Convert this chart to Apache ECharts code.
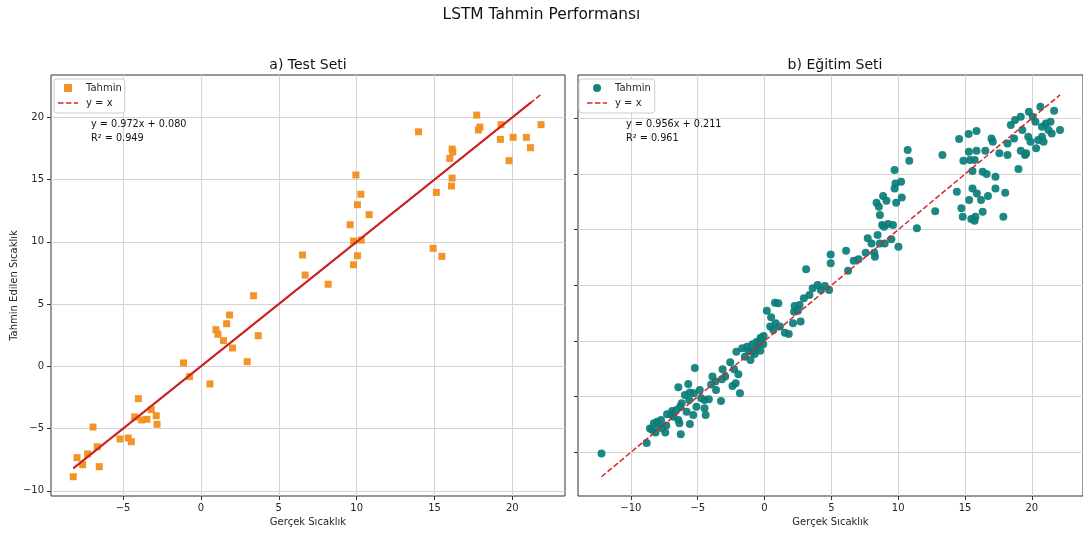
<!DOCTYPE html>
<html>
<head>
<meta charset="utf-8">
<script src="https://cdn.jsdelivr.net/npm/echarts@6/dist/echarts.min.js"></script>
<style>
  html, body { margin: 0; padding: 0; background: #fff; }
  #chart { width: 1083px; height: 534px; }
</style>
</head>
<body>
<div id="chart"></div>
<script>
// Test set: actual and predicted temperature (°C)
const testActual = [
  6.52, 6.69, 8.17, 9.95, 10.27, 10.05, 10.80, 9.58, 9.80, 10.29,
  10.05, 9.80, 13.97, 15.12, 14.91, 15.47, 16.13, 16.17, 15.98, 16.13,
  16.09, 17.71, 17.91, 17.82, 19.27, 19.23, 20.05, 19.79, 20.90, 21.16,
  21.84, 3.38, 1.84, 1.65, 0.96, 1.09, 1.45, 2.03, 3.68, 2.97,
  -1.12, -0.73, 0.58, -4.02, -3.19, -4.26, -2.87, -3.81, -3.47, -2.82,
  -6.93, -5.20, -4.67, -4.47, -6.66, -7.28, -7.96, -7.60, -6.53, -8.20
];
const testPredicted = [
  8.94, 7.33, 6.59, 15.37, 13.82, 12.98, 12.18, 11.37, 10.06, 10.14,
  8.88, 8.16, 18.84, 13.97, 9.48, 8.83, 17.45, 17.21, 16.70, 15.12,
  14.48, 20.18, 19.22, 18.98, 19.41, 18.23, 18.39, 16.52, 18.39, 17.56,
  19.41, 5.67, 4.12, 3.42, 2.94, 2.57, 2.06, 1.47, 2.46, 0.37,
  0.27, -0.83, -1.42, -2.60, -3.48, -4.07, -3.97, -4.31, -4.26, -4.66,
  -4.88, -5.84, -5.76, -6.06, -6.46, -7.04, -7.34, -7.90, -8.06, -8.87
];
// Extent of the solid guide line on the test panel
const testGuideX = [-8.2, 21.2];

// Training set: actual and predicted temperature (°C)
const trainActual = [
  -12.20, -8.82, -8.58, -8.28, -8.04, -7.75, -8.16, -7.67, -7.35, -7.43,
  -7.30, -6.91, -6.81, -6.45, -6.37, -6.27, -6.45, -6.32, -6.20, -5.96,
  -5.71, -5.59, -5.64, -5.83, -5.59, -5.34, -5.29, -5.22, -5.10, -4.85,
  -4.73, -4.49, -4.49, -4.41, -4.17, -3.63, -3.68, -3.26, -3.19, -3.14,
  -2.94, -2.57, -2.28, -2.16, -1.96, -2.11, -1.84, -2.40, -1.67, -1.47,
  -1.30, -1.05, -0.93, -0.74, -0.56, -0.44, -0.32, -0.20, -0.07, 0.17,
  0.49, 0.42, 0.66, 0.78, 1.03, 0.83, 1.15, 1.52, 1.81, 2.21,
  2.13, 2.25, 2.62, 2.50, 2.70, 2.94, 3.36, 3.60, 3.97, 4.22,
  4.51, 4.83, 3.11, -7.90, -8.40, -7.00, -6.60, -4.00, -3.90, -0.90,
  -0.60, -0.30, -1.20, -0.10,
  4.95, 4.95, 6.10, 6.25, 6.67, 7.03, 7.57, 7.72, 8.01, 8.26,
  8.21, 8.46, 8.63, 8.99, 8.80, 8.95, 9.24, 9.61, 9.49, 10.02,
  8.38, 8.55, 8.87, 9.12, 8.63, 9.73, 9.80, 9.73, 10.22, 9.85,
  10.27, 10.71, 10.83, 11.40, 12.77, 13.31, 14.39, 14.56, 14.73, 14.83,
  15.27, 15.86, 15.29, 15.37, 14.88, 15.73, 15.86, 15.56, 15.56, 15.31,
  15.89, 15.47, 15.72, 15.78, 16.20, 16.32, 16.62, 16.52, 16.72, 16.32,
  16.98, 17.08, 17.28, 17.28, 17.57, 17.87, 18.01, 18.18, 18.18, 18.43,
  18.67, 18.75, 19.00, 19.17, 19.17, 19.49, 19.58, 19.78, 19.73, 19.90,
  20.07, 20.27, 20.32, 20.47, 20.64, 20.76, 20.76, 20.88, 21.05, 21.25,
  21.40, 21.49, 21.67, 22.11, 19.29
];
const trainPredicted = [
  -10.10, -9.16, -7.87, -7.40, -7.25, -7.10, -8.23, -7.84, -7.60, -8.23,
  -6.59, -6.29, -6.80, -7.10, -7.40, -8.38, -4.16, -5.90, -5.60, -4.85,
  -3.86, -4.64, -5.30, -6.35, -7.46, -6.65, -4.70, -2.43, -5.90, -4.40,
  -5.15, -5.30, -6.05, -6.65, -5.24, -4.40, -3.65, -5.39, -3.44, -2.54,
  -3.20, -1.92, -2.54, -3.80, -2.99, -0.96, -4.70, -4.04, -0.66, -1.41,
  -0.51, -1.71, -0.96, -1.17, -0.66, -0.21, -0.87, 0.15, 0.45, 2.72,
  2.13, 1.29, 0.99, 3.44, 3.38, 1.59, 1.29, 0.75, 0.63, 2.63,
  1.59, 3.14, 3.23, 2.72, 1.74, 3.83, 4.13, 4.73, 5.03, 4.58,
  4.94, 4.58, 6.44, -7.60, -8.00, -6.60, -6.20, -3.90, -3.20, -0.30,
  -0.10, 0.30, -0.90, -0.30,
  7.78, 6.98, 8.11, 6.32, 7.22, 7.34, 7.93, 9.22, 8.77, 7.57,
  7.93, 9.52, 8.77, 8.77, 10.42, 10.27, 10.51, 10.42, 9.13, 8.47,
  12.43, 12.07, 13.02, 12.60, 11.32, 15.36, 14.16, 13.71, 14.31, 12.43,
  12.90, 17.16, 16.20, 10.12, 11.65, 16.71, 13.41, 18.14, 11.92, 11.17,
  18.59, 18.86, 17.01, 16.26, 16.20, 16.26, 17.10, 15.27, 13.71, 12.66,
  13.26, 10.96, 10.81, 11.17, 12.66, 15.21, 15.00, 17.10, 13.02, 11.62,
  18.20, 17.90, 14.76, 13.71, 16.86, 11.17, 13.32, 16.71, 17.75, 19.40,
  18.20, 19.85, 15.45, 20.15, 17.10, 16.71, 16.86, 20.60, 18.35, 17.90,
  20.15, 19.70, 17.31, 18.05, 21.05, 19.25, 18.35, 17.90, 19.55, 18.95,
  19.70, 18.65, 20.69, 18.95, 18.95
];

// Linear fits printed on each panel
const testFit = { slope: 0.972, intercept: 0.080, r2: 0.949 };
const trainFit = { slope: 0.956, intercept: 0.211, r2: 0.961 };

// Tick positions
const testXTicks = [-5, 0, 5, 10, 15, 20];
const yTicks = [-10, -5, 0, 5, 10, 15, 20];
const trainXTicks = [-10, -5, 0, 5, 10, 15, 20];

const FONT = 'DejaVu Sans';
const TEXT = '#262626';
const ORANGE = '#f28e1c';
const TEAL = '#0a7d7a';
const RED = '#d62728';
const DARK_RED = '#c41f1f';
// Dashed-line legend glyph (three dashes)
const DASH_ICON = 'path://M0 0H5.5V1.6H0Z M7.9 0H13.4V1.6H7.9Z M15.8 0H20V1.6H15.8Z';

const pairs = (xs, ys) => xs.map((x, i) => [x, ys[i]]);
const span = xs => [Math.min(...xs), Math.max(...xs)];
const minusSign = v => (v < 0 ? '\u2212' + Math.abs(v) : String(v));
const identity = r => r.map(v => [v, v]);

function valueAxis(gridIndex, min, max, ticks, extra) {
  return Object.assign({
    type: 'value', gridIndex, min, max, splitNumber: 7, scale: true,
    axisLine: { show: false, onZero: false },
    axisTick: { show: true, inside: false, length: 4, customValues: ticks,
                lineStyle: { color: '#333', width: 1 } },
    axisLabel: { show: true, customValues: ticks, formatter: minusSign, margin: 7,
                 fontFamily: FONT, fontSize: 10, color: TEXT },
    splitLine: { show: true, lineStyle: { color: '#d4d4d4', width: 1 } },
    nameTextStyle: { fontFamily: FONT, fontSize: 10, color: TEXT }
  }, extra || {});
}

const legendBase = {
  orient: 'vertical', top: 79, itemWidth: 20, itemHeight: 8, itemGap: 5,
  backgroundColor: '#fff', borderColor: '#cccccc',
  borderWidth: 1, borderRadius: 3, selectedMode: false,
  textStyle: { fontFamily: FONT, fontSize: 10, color: TEXT, padding: [0, 0, 0, 3] }
};
const legendItems = (icon, color) => [
  { name: 'Tahmin', icon: icon, itemStyle: { color: color } },
  { name: 'y = x', icon: DASH_ICON, itemStyle: { color: RED } }
];

const chart = echarts.init(document.getElementById('chart'), null, { renderer: 'canvas' });

const trainYAxis = valueAxis(1, -13.93, 23.9, yTicks);
trainYAxis.axisLabel.show = false;

chart.setOption({
  animation: false,
  backgroundColor: '#fff',
  title: {
    text: 'LSTM Tahmin Performansı', left: 'center', top: 7, padding: 0,
    textStyle: { fontFamily: FONT, fontSize: 15.4, fontWeight: 'normal', color: '#111' }
  },
  grid: [
    { left: 51, top: 75, width: 514, height: 421, show: true,
      borderColor: '#333', borderWidth: 1, backgroundColor: '#fff' },
    { left: 578, top: 75, width: 514, height: 421, show: true,
      borderColor: '#333', borderWidth: 1, backgroundColor: '#fff' }
  ],
  xAxis: [
    valueAxis(0, -9.63, 23.38, testXTicks, {
      name: 'Gerçek Sıcaklık', nameLocation: 'middle', nameGap: 18
    }),
    valueAxis(1, -13.96, 23.83, trainXTicks, {
      name: 'Gerçek Sıcaklık', nameLocation: 'middle', nameGap: 18
    })
  ],
  yAxis: [
    valueAxis(0, -10.42, 23.4, yTicks, {
      name: 'Tahmin Edilen Sıcaklık', nameLocation: 'middle', nameGap: 32
    }),
    trainYAxis
  ],
  legend: [
    Object.assign({}, legendBase, {
      left: 54, padding: [4, 3, 5, 4], data: legendItems('path://M0 0H10V10H0Z', ORANGE)
    }),
    Object.assign({}, legendBase, {
      left: 579, padding: [4, 4, 5, 8], data: legendItems('circle', TEAL)
    })
  ],
  graphic: [
    { type: 'text', x: 308, y: 65, silent: true, style: { text: 'a) Test Seti',
      fontFamily: FONT, fontSize: 14, fill: '#111', align: 'center', verticalAlign: 'middle' } },
    { type: 'text', x: 835, y: 65, silent: true, style: { text: 'b) Eğitim Seti',
      fontFamily: FONT, fontSize: 14, fill: '#111', align: 'center', verticalAlign: 'middle' } },
    { type: 'text', x: 91, y: 124, z: 20, silent: true, style: {
      text: 'y = ' + testFit.slope.toFixed(3) + 'x + ' + testFit.intercept.toFixed(3),
      fontFamily: FONT, fontSize: 9.7, fill: '#111', verticalAlign: 'middle' } },
    { type: 'text', x: 91, y: 138, z: 20, silent: true, style: {
      text: 'R² = ' + testFit.r2.toFixed(3),
      fontFamily: FONT, fontSize: 9.7, fill: '#111', verticalAlign: 'middle' } },
    { type: 'text', x: 626, y: 124, z: 20, silent: true, style: {
      text: 'y = ' + trainFit.slope.toFixed(3) + 'x + ' + trainFit.intercept.toFixed(3),
      fontFamily: FONT, fontSize: 9.7, fill: '#111', verticalAlign: 'middle' } },
    { type: 'text', x: 626, y: 138, z: 20, silent: true, style: {
      text: 'R² = ' + trainFit.r2.toFixed(3),
      fontFamily: FONT, fontSize: 9.7, fill: '#111', verticalAlign: 'middle' } }
  ],
  series: [
    { name: 'Tahmin', type: 'scatter', xAxisIndex: 0, yAxisIndex: 0,
      data: pairs(testActual, testPredicted), symbol: 'rect', symbolSize: 7,
      itemStyle: { color: ORANGE, opacity: 0.95 }, z: 2 },
    { name: 'Kılavuz', type: 'line', xAxisIndex: 0, yAxisIndex: 0,
      data: identity(testGuideX), symbol: 'none',
      lineStyle: { color: DARK_RED, width: 2 }, z: 3 },
    { name: 'y = x', type: 'line', xAxisIndex: 0, yAxisIndex: 0,
      data: identity(span(testActual)), symbol: 'none',
      itemStyle: { color: RED },
      lineStyle: { color: RED, width: 1.5, type: [5.5, 2.4] }, z: 4 },
    { name: 'Tahmin', type: 'scatter', xAxisIndex: 1, yAxisIndex: 1,
      data: pairs(trainActual, trainPredicted), symbol: 'circle', symbolSize: 8,
      itemStyle: { color: TEAL, opacity: 0.92 }, z: 2 },
    { name: 'y = x', type: 'line', xAxisIndex: 1, yAxisIndex: 1,
      data: identity(span(trainActual)), symbol: 'none',
      itemStyle: { color: RED },
      lineStyle: { color: RED, width: 1.5, type: [5.5, 2.4] }, z: 4 }
  ]
});
</script>
</body>
</html>
